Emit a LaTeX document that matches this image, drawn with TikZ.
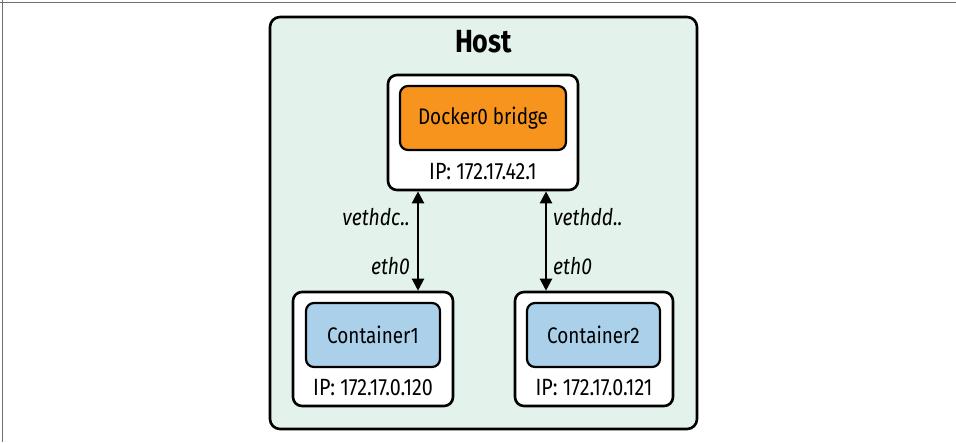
\documentclass[tikz,border=0pt]{standalone}
\usepackage{fontspec}
\setmainfont{Fira Sans}[FakeStretch=0.84]
\usetikzlibrary{arrows.meta}
\definecolor{hostfill}{HTML}{E3F2EB}
\definecolor{orangefill}{HTML}{F7941D}
\definecolor{bluefill}{HTML}{ABD1EA}
\definecolor{framegray}{HTML}{707070}
\tikzset{
  outerbox/.style={draw=black, line width=2.6pt, fill=white, rounded corners=9pt, inner sep=0pt},
  innerbox/.style={draw=black, line width=2.2pt, rounded corners=8pt, inner sep=0pt, font=\fontsize{22.5}{24}\selectfont},
  iptext/.style={inner sep=0pt, font=\fontsize{23.5}{25}\selectfont},
  linklabel/.style={inner sep=0pt, font=\fontsize{23}{25}\selectfont\itshape},
  link/.style={line width=2.2pt, {Triangle[length=12pt,width=12pt]}-{Triangle[length=12pt,width=12pt]}}
}
\begin{document}
\begin{tikzpicture}[x=1pt,y=-1pt]
\useasboundingbox (0,0) rectangle (956,442);
\draw[framegray, line width=1.5pt] (0,2.5) -- (956,2.5);
\draw[framegray, line width=1.5pt] (2.5,0) -- (2.5,442);
\node[draw=black, line width=2.6pt, fill=hostfill, rounded corners=10pt, minimum width=427pt, minimum height=412pt, inner sep=0pt] (host) at (483.5,223) {};
\node[inner sep=0pt, font=\fontsize{32}{34}\selectfont\bfseries] (hostlabel) at (483.5,42) {Host};
\node[outerbox, minimum width=190pt, minimum height=115pt] (dockout) at (483,132.5) {};
\node[innerbox, fill=orangefill, minimum width=166pt, minimum height=64pt] (dockin) at (483,118) {Docker0 bridge};
\node[iptext] (dockip) at (483,172) {IP: 172.17.42.1};
\node[outerbox, minimum width=160pt, minimum height=114pt] (c1out) at (373,349) {};
\node[innerbox, fill=bluefill, minimum width=134pt, minimum height=64pt] (c1in) at (373,335) {Container1};
\node[iptext] (c1ip) at (373,388) {IP: 172.17.0.120};
\node[outerbox, minimum width=158pt, minimum height=114pt] (c2out) at (594,349) {};
\node[innerbox, fill=bluefill, minimum width=133pt, minimum height=64pt] (c2in) at (593.5,335) {Container2};
\node[iptext] (c2ip) at (594,388) {IP: 172.17.0.121};
\draw[link] ([xshift=-65pt]dockout.south) -- ([xshift=45pt]c1out.north);
\draw[link] ([xshift=63pt]dockout.south) -- ([xshift=-48pt]c2out.north);
\node[linklabel, anchor=east] (veth1) at (410,217) {vethdc..};
\node[linklabel, anchor=east] (eth1) at (410,266) {eth0};
\node[linklabel, anchor=west] (veth2) at (553,217) {vethdd..};
\node[linklabel, anchor=west] (eth2) at (553,266) {eth0};
\end{tikzpicture}
\end{document}
